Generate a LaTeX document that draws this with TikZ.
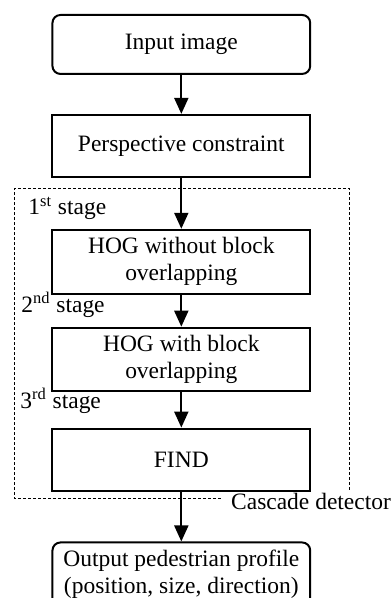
\documentclass[tikz,border=0pt]{standalone}
\usepackage{fontspec}
\setmainfont{Liberation Serif}
\usetikzlibrary{arrows.meta,positioning}
\tikzset{
  every node/.style={font=\fontsize{11.75}{13.5}\selectfont},
  box/.style={rectangle, draw=black, line width=1pt, minimum width=129pt, inner sep=2pt, align=center},
  term/.style={box, rounded corners=4pt},
  connect/.style={-{Triangle[length=8pt,width=7pt]}, line width=1pt},
  frame/.style={line width=0.4pt, dash pattern=on 1.5pt off 1pt},
  stagelbl/.style={anchor=base west, inner sep=0pt}
}

\begin{document}
\begin{tikzpicture}
  \useasboundingbox (0pt,0pt) rectangle (196pt,-299.3pt);
  \node[term, minimum height=29.5pt] (In) at (90.75pt,-22.25pt) {Input image};
  \node[box, minimum height=31pt] (Persp) [below=19.5pt of In] {Perspective constraint};
  \node[box, minimum height=32pt] (Hog1) [below=25.5pt of Persp] {HOG without block\\overlapping};
  \node[box, minimum height=31.5pt] (Hog2) [below=16pt of Hog1] {HOG with block\\overlapping};
  \node[box, minimum height=31pt] (Find) [below=18pt of Hog2] {FIND};
  \node[term, minimum height=32pt] (Out) [below=25pt of Find] {Output pedestrian profile\\(position, size, direction)};

  % cascade detector frame
  \node[stagelbl] (S1) at (14pt,-107.5pt) {1\textsuperscript{st} stage};
  \node[stagelbl] (S2) at (10.5pt,-156.5pt) {2\textsuperscript{nd} stage};
  \node[stagelbl] (S3) at (10pt,-204.5pt) {3\textsuperscript{rd} stage};
  \node[stagelbl] (Casc) at (115.5pt,-255pt) {Cascade detector};
  \draw[frame] (110.5pt,-249.5pt) -- (7.35pt,-249.5pt) -- (7.35pt,-94.5pt)
        -- (175pt,-94.5pt) -- (175pt,-245pt);

  \path (In) edge [connect] (Persp)
        (Persp) edge [connect] (Hog1)
        (Hog1) edge [connect] (Hog2)
        (Hog2) edge [connect] (Find)
        (Find) edge [connect] (Out);

\end{tikzpicture}
\end{document}
